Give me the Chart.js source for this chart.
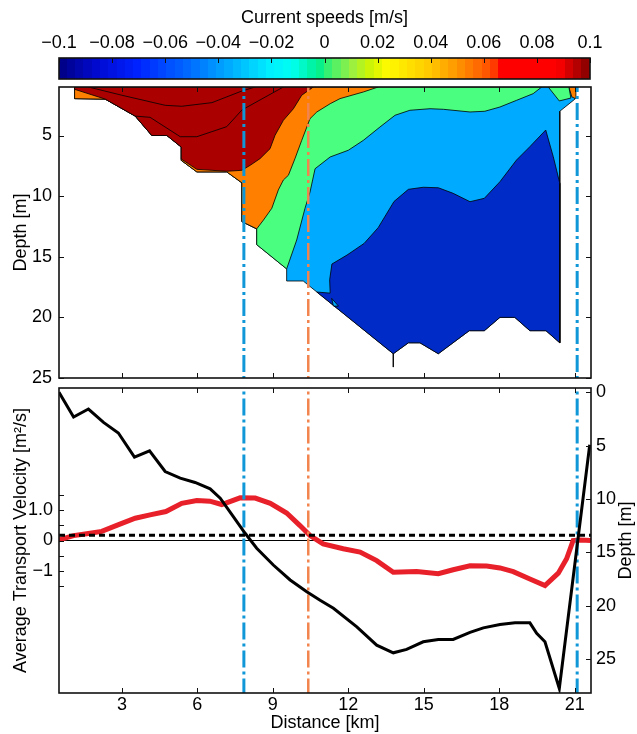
<!DOCTYPE html>
<html>
<head>
<meta charset="utf-8">
<script src="https://cdn.jsdelivr.net/npm/chart.js@4/dist/chart.umd.min.js"></script>
<style>
  body { margin: 0; background: #fff; width: 637px; height: 734px; position: relative; overflow: hidden; }
  canvas { position: absolute; left: 0; }
  #cbar { top: 0; }
  #sect { top: 80px; }
  #trans { top: 380px; }
</style>
</head>
<body>
<canvas id="cbar" width="637" height="84"></canvas>
<canvas id="sect" width="637" height="305"></canvas>
<canvas id="trans" width="637" height="354"></canvas>
<script>
// ---- ticks ----
const distTicks = [3, 6, 9, 12, 15, 18, 21];
const depthTicks = [5, 10, 15, 20, 25];
const depthTicksRight = [0, 5, 10, 15, 20, 25];
const velTicks = [-1.5, -1, -0.5, 0, 0.5, 1, 1.5];
const velTickLabels = ['', '\u22121', '', '0', '', '1.0', ''];
const cbarTicks = [-0.1, -0.08, -0.06, -0.04, -0.02, 0, 0.02, 0.04, 0.06, 0.08, 0.1];
const cbarTickLabels = ['\u22120.1', '\u22120.08', '\u22120.06', '\u22120.04', '\u22120.02', '0', '0.02', '0.04', '0.06', '0.08', '0.1'];

// ---- section (km, depth m) ----
const bedOutline = [[1.12,1],[21.05,1],[21.01,2],[20.41,3],[20.41,22.1],[19.86,21.1],[19.22,21.1],[18.62,20],[18.03,20],
  [17.41,21.1],[16.81,21.1],[15.58,23],[14.85,22.1],[14.39,22.1],[13.79,23],[10.21,17],[9.55,17],[9.55,16],[8.36,14],
  [8.36,12.7],[7.77,12.1],[7.77,8.9],[7.17,8],[5.98,8],[5.36,7.05],[5.36,5.95],[4.79,5],[4.19,5],[3.53,3.4],[2.34,2],[1.12,1.96]];
const slowEdge = [[10.75,17.91],[11.28,18],[11.26,16.9],[11.35,15.6],[11.95,14.86],[12.63,13.9],[13.19,12.6],[13.82,10.44],
  [14.39,9.44],[14.98,9.27],[15.58,9.31],[16.17,9.77],[16.84,10.46],[17.41,10.18],[18.03,8.81],[18.69,7.02],[19.22,5.92],
  [19.85,4.55],[20.15,6.75],[20.41,8.94]];
const greenEdge = [[19.69,1],[19.35,1.55],[18.69,2.1],[18.03,2.65],[17.43,3],[16.84,3.06],[15.78,2.84],[15.25,2.79],[14.45,2.92],
  [13.86,3.33],[13.26,4.3],[12.6,5.4],[12,6.22],[11.28,6.77],[10.68,7.74],[10.48,9.66],[10.28,11],[9.95,13.62]];
const orangeEdge = [[13.19,1],[12.6,1.41],[11.67,1.96],[11.28,2.38],[10.75,3.06],[10.48,3.61],[10.15,5.4],[9.88,6.91],
  [9.62,8.28],[9.42,8.67],[9.22,9.49],[8.96,11],[8.63,11.97],[8.36,12.7]];
const redEdge = [[10.61,1],[10.15,1.68],[9.82,2.79],[9.42,3.75],[9.09,4.98],[8.89,6.09],[8.49,6.91],[8.1,7.46],[7.77,7.87],
  [7.17,7.95],[5.98,7.79],[5.36,6.94]];
const redFoot = [[2.07,1.82],[1.12,1.19]];
const greenCap = [[19.95,1],[20.39,2.15],[20.85,1.91],[20.77,1]];
const orangeCap = [[20.77,1],[20.89,1.82],[21.03,1.95],[21.05,1]];
const blueSpeck = [[11.34,18.43],[11.61,19.07],[11.41,19.07]];
const isoA = [[1.67,1],[3,1.68],[4.72,2.51],[5.38,2.59],[6.58,2.29],[7.77,1.33],[8.3,1]];
const isoB = [[3.53,3.4],[4.12,3.5],[5.32,5.1],[5.98,5.1],[7.17,4.27],[7.77,2.9],[9.42,1]];
const isoStub = [[13.79,23],[13.79,24.1]];

// ---- section marks (km) ----
const blueMarks = [7.85, 21.1];
const orangeMarks = [10.41];

// ---- transport panel ----
const velKm = [0.5,1.08,1.6,2.2,2.87,3.53,4.12,4.75,5.38,5.98,6.5,6.97,7.7,8.3,8.9,9.55,10.08,10.48,11,11.8,12.47,13.13,
  13.79,14.72,15.58,16.17,16.84,17.5,18.03,18.56,19.22,19.82,20.35,20.68,20.94,21.2,21.65];
const transportVel = [0.02,0.16,0.22,0.3,0.52,0.73,0.84,0.95,1.22,1.31,1.29,1.18,1.4,1.39,1.22,0.9,0.49,0.16,-0.11,-0.27,-0.38,
  -0.66,-1.04,-1.02,-1.09,-0.96,-0.83,-0.84,-0.9,-1.02,-1.26,-1.48,-1.07,-0.6,0,0.02,0];
const depthKm = [0.5,1.08,1.67,2.27,2.86,3.5,4.1,4.72,5.32,5.91,6.51,6.91,7.43,7.9,8.36,9.02,9.69,10.35,10.88,11.41,12.34,13.13,
  13.79,14.32,14.98,15.58,16.17,16.84,17.37,18.03,18.63,19.22,19.49,19.82,20.39,21.6];
const bottomDepth = [0,2.32,1.57,2.83,3.82,6.08,5.49,7.43,8.05,8.46,9.06,9.93,11.66,13.22,14.63,16.2,17.6,18.7,19.5,20.26,21.99,
  23.71,24.43,24.11,23.4,23.18,23.18,22.52,22.09,21.77,21.62,21.62,22.6,23.4,27.78,4.92];
const refLevel = 0.17;

// ---- colours ----
const C = { dred: '#aa0000', orange: '#ff8000', green: '#4aff7f', lblue: '#00aaff', dblue: '#002bc6',
  markBlue: '#1097d8', markOrange: '#f2844e', vel: '#e8202a' };
const cmapStops = [[-0.1,[0,0,130]],[-0.085,[0,10,210]],[-0.07,[0,35,255]],[-0.05,[0,110,255]],[-0.035,[0,175,255]],
  [-0.02,[0,240,255]],[-0.012,[0,255,240]],[-0.002,[0,240,140]],[0.002,[60,240,110]],[0.01,[150,240,70]],[0.018,[210,245,0]],
  [0.024,[255,250,0]],[0.04,[255,200,0]],[0.05,[255,150,0]],[0.06,[255,95,0]],[0.065,[255,50,0]],[0.0665,[255,0,0]],
  [0.088,[255,0,0]],[0.1,[130,0,0]]];

Chart.defaults.font.family = '"Liberation Sans", Arial, Helvetica, sans-serif';
Chart.defaults.font.size = 18;
Chart.defaults.color = '#000';

const pts = a => a.map(([x, y]) => ({ x, y }));
const fixBox = size => s => {
  if (s.isHorizontal()) s.height = size; else s.width = size;
  s.paddingTop = s.paddingBottom = s.paddingLeft = s.paddingRight = 0;
};
const setTicks = vals => s => { s.ticks = vals.map(v => ({ value: v })); };

function cmap(v) {
  for (let i = 1; i < cmapStops.length; i++) {
    const [v1, c1] = cmapStops[i], [v0, c0] = cmapStops[i - 1];
    if (v <= v1) {
      const t = (v - v0) / (v1 - v0);
      return 'rgb(' + c0.map((c, k) => Math.round(c + (c1[k] - c) * t)).join(',') + ')';
    }
  }
  return 'rgb(130,0,0)';
}

// frame: box plus inward tick marks, like the original axes
const frame = {
  id: 'frame',
  afterDraw(chart, args, o) {
    const { ctx, chartArea: a, scales } = chart;
    const len = o.len || 5;
    ctx.save();
    ctx.strokeStyle = '#111';
    ctx.lineWidth = 1;
    ctx.beginPath();
    (o.xTicks || []).forEach(v => {
      const px = Math.round(scales.x.getPixelForValue(v)) + 0.5;
      if (o.xBottom !== false) { ctx.moveTo(px, a.bottom); ctx.lineTo(px, a.bottom - len); }
      ctx.moveTo(px, a.top); ctx.lineTo(px, a.top + len);
    });
    (o.yTicks || []).forEach(v => {
      const py = Math.round(scales.y.getPixelForValue(v)) + 0.5;
      ctx.moveTo(a.left, py); ctx.lineTo(a.left + len, py);
      if (o.yMirror) { ctx.moveTo(a.right, py); ctx.lineTo(a.right - len, py); }
    });
    (o.y2Ticks || []).forEach(v => {
      const py = Math.round(scales.y2.getPixelForValue(v)) + 0.5;
      ctx.moveTo(a.right, py); ctx.lineTo(a.right - len, py);
    });
    ctx.stroke();
    ctx.lineWidth = 1.6;
    ctx.strokeRect(a.left, a.top, a.right - a.left, a.bottom - a.top);
    if (o.rightTitle) {
      ctx.translate(o.rightTitle.x, (a.top + a.bottom) / 2);
      ctx.rotate(-Math.PI / 2);
      ctx.font = '18px "Liberation Sans", Arial, sans-serif';
      ctx.fillStyle = '#000';
      ctx.textAlign = 'center';
      ctx.textBaseline = 'middle';
      ctx.fillText(o.rightTitle.text, 0, 0);
    }
    ctx.restore();
  }
};

const cbarPaint = {
  id: 'cbarPaint',
  beforeDatasetsDraw(chart) {
    const { ctx, chartArea: a, scales: { x } } = chart;
    const n = 64;
    for (let i = 0; i < n; i++) {
      const v0 = -0.1 + 0.2 * i / n, v1 = -0.1 + 0.2 * (i + 1) / n;
      const p0 = x.getPixelForValue(v0), p1 = x.getPixelForValue(v1);
      ctx.fillStyle = cmap((v0 + v1) / 2);
      ctx.fillRect(Math.floor(p0), a.top, Math.ceil(p1) - Math.floor(p0), a.bottom - a.top);
    }
  }
};

const base = { responsive: false, animation: false, devicePixelRatio: 1, events: [],
  plugins: { legend: { display: false }, tooltip: { enabled: false } } };

// ---- colour bar ----
new Chart(document.getElementById('cbar'), {
  type: 'scatter',
  data: { datasets: [] },
  options: {
    ...base,
    layout: { padding: { left: 59, right: 47, bottom: 5, top: 0 } },
    plugins: { ...base.plugins, frame: { xTicks: cbarTicks, xBottom: false, len: 5 } },
    scales: {
      x: { type: 'linear', position: 'top', min: -0.1, max: 0.1,
        afterFit: fixBox(58), afterBuildTicks: setTicks(cbarTicks),
        grid: { display: false, drawTicks: false }, border: { display: false },
        ticks: { padding: 4, maxRotation: 0, callback: (v, i) => cbarTickLabels[i] },
        title: { display: true, text: 'Current speeds [m/s]', padding: { top: 7, bottom: 0 } } },
      y: { display: false, min: 0, max: 1 }
    }
  },
  plugins: [cbarPaint, frame]
});

// ---- velocity section ----
const poly = (p, col, order) => ({ data: pts(p.concat([p[0]])), showLine: true, fill: 'shape', backgroundColor: col,
  borderColor: '#000', borderWidth: 0.8, pointRadius: 0, tension: 0, order });
const curve = (p, order) => ({ data: pts(p), showLine: true, fill: false, borderColor: '#000', borderWidth: 0.8,
  pointRadius: 0, tension: 0, order });
const mark = (x, lo, hi, col, w, order) => ({ data: [{ x, y: lo }, { x, y: hi }], showLine: true, fill: false,
  borderColor: col, borderWidth: w, borderDash: [17, 4, 3, 4], pointRadius: 0, order });

new Chart(document.getElementById('sect'), {
  type: 'scatter',
  data: { datasets: [
    poly(bedOutline, C.lblue, 10),
    poly(slowEdge.concat(bedOutline.slice(4, 15)), C.dblue, 9),
    poly(blueSpeck, C.lblue, 8),
    poly([[1.12, 1]].concat(greenEdge, bedOutline.slice(17)), C.green, 7),
    poly([[1.12, 1]].concat(orangeEdge, bedOutline.slice(20)), C.orange, 6),
    poly([[1.12, 1]].concat(redEdge, bedOutline.slice(25, 30), redFoot), C.dred, 5),
    poly(greenCap, C.green, 4),
    poly(orangeCap, C.orange, 4),
    curve(isoA, 3), curve(isoB, 3), curve(isoStub, 3),
    ...blueMarks.map(x => mark(x, 0, 26, C.markBlue, 3, 1)),
    ...orangeMarks.map(x => mark(x, 0, 26, C.markOrange, 2.5, 1))
  ] },
  options: {
    ...base,
    layout: { padding: { left: 0, right: 46, top: 7, bottom: 0 } },
    plugins: { ...base.plugins, frame: { xTicks: distTicks, yTicks: depthTicks, yMirror: true, len: 5 } },
    scales: {
      x: { type: 'linear', min: 0.5, max: 21.65, afterFit: fixBox(7), afterBuildTicks: setTicks(distTicks),
        grid: { display: false, drawTicks: false }, border: { display: false }, ticks: { display: false } },
      y: { type: 'linear', reverse: true, min: 1, max: 25, afterFit: fixBox(59), afterBuildTicks: setTicks(depthTicks),
        grid: { display: false, drawTicks: false }, border: { display: false }, ticks: { padding: 7 },
        title: { display: true, text: 'Depth [m]', padding: { top: 10, bottom: 0 } } }
    }
  },
  plugins: [frame]
});

// ---- transport panel ----
new Chart(document.getElementById('trans'), {
  type: 'scatter',
  data: { datasets: [
    { data: [{ x: 0.5, y: 0 }, { x: 21.65, y: 0 }], showLine: true, borderColor: '#000', borderWidth: 1,
      pointRadius: 0, yAxisID: 'y', order: 6 },
    { data: velKm.map((x, i) => ({ x, y: transportVel[i] })), showLine: true, borderColor: C.vel, borderWidth: 5,
      pointRadius: 0, tension: 0, yAxisID: 'y', order: 5 },
    ...blueMarks.map(x => ({ ...mark(x, -6, 6, C.markBlue, 3, 3), yAxisID: 'y' })),
    ...orangeMarks.map(x => ({ ...mark(x, -6, 6, C.markOrange, 2.5, 3), yAxisID: 'y' })),
    { data: depthKm.map((x, i) => ({ x, y: bottomDepth[i] })), showLine: true, borderColor: '#000', borderWidth: 3,
      pointRadius: 0, tension: 0, yAxisID: 'y2', order: 2 },
    { data: [{ x: 0.5, y: refLevel }, { x: 21.65, y: refLevel }], showLine: true, borderColor: '#000', borderWidth: 3,
      borderDash: [6, 4], pointRadius: 0, yAxisID: 'y', order: 1 }
  ] },
  options: {
    ...base,
    layout: { padding: { left: 0, right: 0, top: 8, bottom: 0 } },
    plugins: { ...base.plugins, frame: { xTicks: distTicks, yTicks: velTicks, y2Ticks: depthTicksRight, len: 5,
      rightTitle: { text: 'Depth [m]', x: 626 } } },
    scales: {
      x: { type: 'linear', min: 0.5, max: 21.65, afterFit: fixBox(41), afterBuildTicks: setTicks(distTicks),
        grid: { display: false, drawTicks: false }, border: { display: false }, ticks: { padding: 1 },
        title: { display: true, text: 'Distance [km]', padding: { top: 0, bottom: 0 } } },
      y: { type: 'linear', position: 'left', min: -5, max: 5, afterFit: fixBox(59), afterBuildTicks: setTicks(velTicks),
        grid: { display: false, drawTicks: false }, border: { display: false },
        ticks: { padding: 6, callback: (v, i) => velTickLabels[i] },
        title: { display: true, text: 'Average Transport Velocity [m\u00b2/s]', padding: { top: 10, bottom: 0 } } },
      y2: { type: 'linear', position: 'right', reverse: true, min: -0.4, max: 28.2, afterFit: fixBox(46),
        afterBuildTicks: setTicks(depthTicksRight), grid: { display: false, drawTicks: false }, border: { display: false },
        ticks: { padding: 5 } }
    }
  },
  plugins: [frame]
});
</script>
</body>
</html>
